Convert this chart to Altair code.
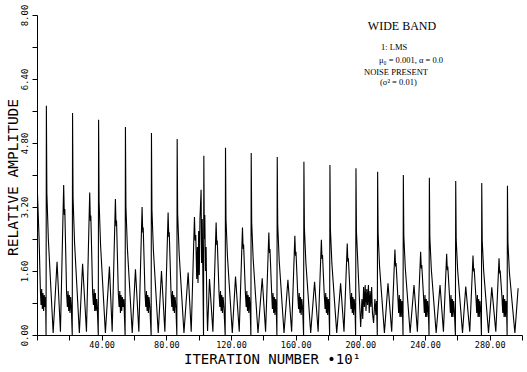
import altair as alt
import pandas as pd

# ---- data (x in units of 10 iterations) ----
iteration_x = [
    0.0, 0.5, 1.3, 2.1, 2.5, 2.9, 3.3, 3.7, 4.1, 4.5, 4.9, 5.3, 5.6,
    5.8, 6.1, 7.0, 10.0, 12.4, 14.5, 16.5, 16.9, 17.2, 18.3, 18.8, 19.2, 19.6, 20.0, 20.4, 20.8, 21.2, 21.8,
    22.0, 22.3, 23.2, 26.2, 28.2, 30.6, 32.6, 33.0, 33.3, 34.4, 34.9, 35.3, 35.7, 36.1, 36.5, 36.9, 37.3, 37.9,
    38.1, 38.4, 39.3, 42.3, 44.8, 46.5, 48.5, 48.9, 49.2, 50.3, 50.8, 51.2, 51.6, 52.0, 52.4, 52.8, 53.2, 53.7, 54.5,
    54.7, 55.0, 55.9, 58.9, 60.9, 63.0, 65.0, 65.4, 65.7, 66.8, 67.3, 67.7, 68.1, 68.5, 68.9, 69.3, 69.8, 70.6,
    70.8, 71.1, 72.0, 75.0, 77.0, 79.1, 81.1, 81.5, 81.8, 82.9, 83.4, 83.8, 84.2, 84.6, 85.0, 85.4, 85.9, 86.5,
    86.7, 87.0, 87.9, 90.9, 93.5, 95.4, 97.4, 97.8, 98.2, 98.8, 99.2, 99.6, 100.0, 100.4, 100.8, 101.5, 101.8, 102.2, 102.6, 103.0,
    103.2, 103.5, 103.8, 104.2, 104.6, 105.0, 105.5, 106.7, 108.8, 110.8, 111.2, 111.5, 112.6, 113.1, 113.5, 113.9, 114.3, 114.7, 115.1, 115.6, 116.4,
    116.6, 116.9, 117.8, 120.8, 122.8, 125.1, 127.1, 127.5, 127.8, 128.9, 129.4, 129.8, 130.2, 130.6, 131.0, 131.4, 131.8, 132.3,
    132.5, 132.8, 133.7, 136.7, 139.3, 141.4, 143.4, 143.8, 144.1, 145.2, 145.6, 146.0, 146.4, 146.8, 147.2, 147.6, 148.0, 148.4,
    148.6, 148.9, 149.8, 152.8, 155.2, 157.5, 159.5, 159.9, 160.2, 161.3, 161.8, 162.2, 162.6, 163.0, 163.4, 163.8, 164.3, 164.9,
    165.1, 165.4, 166.3, 169.3, 171.7, 173.9, 175.9, 176.3, 176.6, 177.7, 178.2, 178.6, 179.0, 179.4, 179.8, 180.2, 180.6, 181.0,
    181.2, 181.5, 182.4, 185.4, 187.8, 189.9, 191.9, 192.3, 192.6, 193.7, 194.2, 194.6, 195.0, 195.4, 195.8, 196.2, 196.7, 197.1,
    197.3, 197.6, 198.5, 200.2, 201.0, 201.5, 202.0, 202.5, 203.0, 203.5, 204.0, 204.5, 205.0, 205.5, 206.0, 206.5, 207.0, 207.5, 208.2, 209.0, 209.6, 210.0, 210.5,
    210.7, 211.0, 211.9, 214.9, 217.1, 219.4, 221.4, 221.8, 222.1, 223.2, 223.7, 224.1, 224.5, 224.9, 225.3, 225.7, 226.1, 226.4,
    226.6, 226.9, 227.8, 230.8, 233.2, 235.3, 237.3, 237.7, 238.0, 239.1, 239.6, 240.0, 240.4, 240.8, 241.2, 241.6, 242.1, 242.5,
    242.7, 243.0, 243.9, 246.9, 249.3, 251.4, 253.4, 253.8, 254.1, 255.2, 255.7, 256.1, 256.5, 256.9, 257.3, 257.7, 258.2, 258.8,
    259.0, 259.3, 260.2, 263.2, 265.2, 267.7, 269.7, 270.1, 270.4, 271.5, 272.0, 272.4, 272.8, 273.2, 273.6, 274.0, 274.5, 274.9,
    275.1, 275.4, 276.3, 279.3, 281.3, 283.8, 285.8, 286.2, 286.5, 287.6, 288.1, 288.5, 288.9, 289.3, 289.7, 290.1, 290.5, 290.8,
    291.0, 291.3, 292.2, 295.6, 297.6,
]

amplitude_y = [
    3.90, 3.30, 2.40, 1.10, 0.75, 1.15, 0.65, 1.05, 0.60, 1.00, 0.70, 0.95, 0.00,
    5.73, 3.55, 2.41, 0.05, 1.83, 0.08, 3.75, 3.00, 3.15, 1.05, 0.70, 1.10, 0.60, 1.00, 0.55, 0.95, 0.70, 0.00,
    5.55, 3.44, 2.33, 0.05, 1.78, 0.08, 3.56, 2.85, 2.99, 1.05, 0.75, 1.15, 0.60, 1.05, 0.60, 0.90, 0.65, 0.00,
    5.38, 3.34, 2.26, 0.05, 1.71, 0.08, 3.40, 2.72, 2.86, 1.05, 0.70, 1.10, 0.55, 1.00, 0.60, 0.95, 0.70, 0.90, 0.00,
    5.20, 3.22, 2.18, 0.05, 1.64, 0.08, 3.20, 2.56, 2.69, 1.05, 0.70, 1.10, 0.60, 1.00, 0.55, 0.95, 0.70, 0.00,
    5.05, 3.13, 2.12, 0.05, 1.60, 0.08, 3.06, 2.45, 2.57, 1.05, 0.70, 1.10, 0.60, 1.00, 0.55, 0.95, 0.70, 0.00,
    4.90, 3.04, 2.06, 0.05, 1.56, 0.08, 2.95, 2.36, 2.50, 1.40, 2.20, 1.30, 2.60, 1.50, 2.90, 3.63, 1.80, 2.90, 1.50, 0.00,
    4.48, 2.40, 3.00, 1.60, 2.20, 0.90, 0.10, 1.40, 0.08, 2.81, 2.25, 2.36, 1.05, 0.70, 1.10, 0.60, 1.00, 0.55, 0.95, 0.70, 0.00,
    4.68, 2.90, 1.97, 0.05, 1.46, 0.08, 2.69, 2.15, 2.26, 1.05, 0.70, 1.10, 0.60, 1.00, 0.55, 0.95, 0.70, 0.00,
    4.55, 2.82, 1.91, 0.05, 1.42, 0.08, 2.56, 2.05, 2.15, 1.00, 0.65, 1.05, 0.55, 0.95, 0.50, 0.90, 0.65, 0.00,
    4.45, 2.76, 1.87, 0.05, 1.38, 0.08, 2.48, 1.98, 2.08, 1.00, 0.65, 1.05, 0.55, 0.95, 0.50, 0.90, 0.65, 0.00,
    4.33, 2.68, 1.82, 0.05, 1.33, 0.08, 2.38, 1.90, 2.00, 1.00, 0.65, 1.05, 0.55, 0.95, 0.50, 0.90, 0.65, 0.00,
    4.25, 2.64, 1.79, 0.05, 1.29, 0.08, 2.29, 1.83, 1.92, 1.00, 0.65, 1.05, 0.55, 0.95, 0.50, 0.90, 0.65, 0.00,
    4.17, 2.59, 1.75, 0.20, 0.90, 0.40, 1.20, 0.70, 1.25, 0.60, 1.15, 0.75, 1.25, 0.55, 1.10, 0.70, 1.20, 0.55, 0.30, 0.90, 0.50, 0.85, 0.00,
    4.08, 2.53, 1.71, 0.05, 1.29, 0.08, 2.14, 1.71, 1.80, 0.95, 0.55, 1.00, 0.45, 0.90, 0.45, 0.85, 0.55, 0.00,
    4.00, 2.48, 1.68, 0.05, 1.25, 0.08, 2.08, 1.66, 1.75, 0.95, 0.55, 1.00, 0.45, 0.90, 0.45, 0.85, 0.55, 0.00,
    3.93, 2.44, 1.65, 0.05, 1.25, 0.08, 2.03, 1.62, 1.71, 0.95, 0.55, 1.00, 0.45, 0.90, 0.45, 0.85, 0.55, 0.00,
    3.85, 2.39, 1.62, 0.05, 1.21, 0.08, 1.99, 1.59, 1.67, 0.95, 0.55, 1.00, 0.45, 0.90, 0.45, 0.85, 0.55, 0.00,
    3.80, 2.36, 1.60, 0.05, 1.19, 0.08, 1.92, 1.54, 1.61, 0.95, 0.55, 1.00, 0.45, 0.90, 0.45, 0.85, 0.55, 0.00,
    3.73, 2.31, 1.57, 0.05, 1.17,
]

x_tick_values = [0, 20, 40, 60, 80, 100, 120, 140, 160, 180, 200, 220, 240, 260, 280, 300]
y_tick_values = [0.0, 0.8, 1.6, 2.4, 3.2, 4.0, 4.8, 5.6, 6.4, 7.2, 8.0]

annotation_lines = ["WIDE BAND", "1: LMS", "\u03bc\u2080 = 0.001, \u03b1 = 0.0",
                    "NOISE PRESENT", "(\u03c3\u00b2 = 0.01)"]

df = pd.DataFrame({"x": iteration_x, "y": amplitude_y})

MONO = "DejaVu Sans Mono"
SERIF = "Liberation Serif"

line = alt.Chart(df).mark_line(color="black", strokeWidth=1.1, clip=True).encode(
    x=alt.X(
        "x:Q",
        scale=alt.Scale(domain=[0, 300], nice=False, zero=False),
        axis=alt.Axis(
            values=x_tick_values,
            labelExpr="datum.value > 0 && datum.value % 40 == 0 ? format(datum.value, '.2f') : ''",
            grid=False, tickSize=5, tickColor="black", domainColor="black",
            labelColor="black", labelFont=MONO, labelFontSize=8.5,
            labelBaseline="top", labelPadding=0, labelFlush=False, labelOverlap=False,
            title="ITERATION NUMBER  \u202210\u00b9",
            titleFont=MONO, titleFontSize=14, titleFontWeight="normal", titleColor="black",
            titleAlign="center", titleBaseline="alphabetic", titleX=235, titleY=28,
        ),
    ),
    y=alt.Y(
        "y:Q",
        scale=alt.Scale(domain=[0, 8], nice=False),
        axis=alt.Axis(
            values=y_tick_values,
            labelExpr="round(datum.value * 10) % 16 == 0 ? format(datum.value, '.2f') : ''",
            grid=False, tickSize=5, tickColor="black", domainColor="black",
            labelColor="black", labelFont=MONO, labelFontSize=9,
            labelAngle=-90, labelAlign="center", labelBaseline="middle", labelPadding=8,
            labelFlush=False, labelOverlap=False,
            title="RELATIVE AMPLITUDE",
            titleFont=MONO, titleFontSize=14.5, titleFontWeight="normal", titleColor="black",
            titleAngle=270, titleAlign="center", titleBaseline="middle", titleX=-24, titleY=162,
        ),
    ),
    order=alt.Order("x:Q"),
)


def note(text, x, y, size, align):
    return alt.Chart(pd.DataFrame({"t": [text]})).mark_text(
        font=SERIF, fontSize=size, color="black", align=align, baseline="alphabetic"
    ).encode(text="t:N", x=alt.value(x), y=alt.value(y))


notes = [
    note(annotation_lines[0], 365, 15, 12, "center"),
    note(annotation_lines[1], 344, 35, 8.5, "left"),
    note(annotation_lines[2], 342, 48, 8.5, "left"),
    note(annotation_lines[3], 327, 60, 8.5, "left"),
    note(annotation_lines[4], 343, 70, 8.5, "left"),
]

chart = alt.layer(line, *notes).properties(
    width=485, height=320,
    padding={"left": 37, "top": 15, "right": 5, "bottom": 37},
    autosize=alt.AutoSizeParams(type="none"),
    background="white",
).configure_view(strokeWidth=0)

chart.save("out.html", embed_options={"renderer": "svg", "actions": False})
